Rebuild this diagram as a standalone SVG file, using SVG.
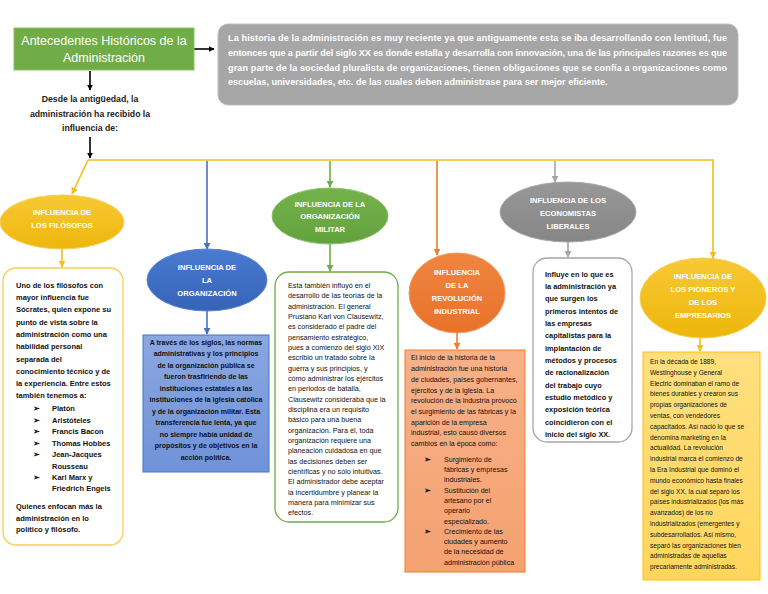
<svg xmlns="http://www.w3.org/2000/svg" width="768" height="594" viewBox="0 0 768 594">
<style>
  text { font-family: "Liberation Sans", Arial, sans-serif; }
  .lbl { fill: #ffffff; font-size: 7.6px; font-weight: bold; text-anchor: middle; }
  .b { font-size: 7.5px; font-weight: bold; fill: #111; }
  .r { font-size: 7.2px; fill: #111; }
  .bul { font-family: "DejaVu Sans", sans-serif; font-size: 8px; font-weight: bold; fill: #111; }
  .ln { fill: none; stroke-width: 1.6; }
</style>
<defs>
  <marker id="mk" viewBox="0 0 10 10" refX="9" refY="5" markerWidth="6" markerHeight="6" markerUnits="userSpaceOnUse" orient="auto"><path d="M0,0 L10,5 L0,10 z" fill="#000"/></marker>
  <marker id="mg" viewBox="0 0 10 10" refX="9" refY="5" markerWidth="7" markerHeight="7" markerUnits="userSpaceOnUse" orient="auto"><path d="M0,0 L10,5 L0,10 z" fill="#f2bd1d"/></marker>
  <marker id="mb" viewBox="0 0 10 10" refX="9" refY="5" markerWidth="7" markerHeight="7" markerUnits="userSpaceOnUse" orient="auto"><path d="M0,0 L10,5 L0,10 z" fill="#4472c4"/></marker>
  <marker id="mgr" viewBox="0 0 10 10" refX="9" refY="5" markerWidth="7" markerHeight="7" markerUnits="userSpaceOnUse" orient="auto"><path d="M0,0 L10,5 L0,10 z" fill="#70ad47"/></marker>
  <marker id="mo" viewBox="0 0 10 10" refX="9" refY="5" markerWidth="7" markerHeight="7" markerUnits="userSpaceOnUse" orient="auto"><path d="M0,0 L10,5 L0,10 z" fill="#ed7d31"/></marker>
  <marker id="ms" viewBox="0 0 10 10" refX="9" refY="5" markerWidth="7" markerHeight="7" markerUnits="userSpaceOnUse" orient="auto"><path d="M0,0 L10,5 L0,10 z" fill="#a5a5a5"/></marker>
  <linearGradient id="gGold" x1="0" y1="0" x2="0" y2="1"><stop offset="0" stop-color="#f7c934"/><stop offset="1" stop-color="#eeb60c"/></linearGradient>
  <linearGradient id="gBlue" x1="0" y1="0" x2="0" y2="1"><stop offset="0" stop-color="#4a7bd0"/><stop offset="1" stop-color="#3563b8"/></linearGradient>
  <linearGradient id="gGreen" x1="0" y1="0" x2="0" y2="1"><stop offset="0" stop-color="#75b24c"/><stop offset="1" stop-color="#62a23c"/></linearGradient>
  <linearGradient id="gOr" x1="0" y1="0" x2="0" y2="1"><stop offset="0" stop-color="#f08540"/><stop offset="1" stop-color="#e8722a"/></linearGradient>
  <linearGradient id="gGrey" x1="0" y1="0" x2="0" y2="1"><stop offset="0" stop-color="#989898"/><stop offset="1" stop-color="#868686"/></linearGradient>
  <linearGradient id="gBox1" x1="0" y1="0" x2="0" y2="1"><stop offset="0" stop-color="#8aa7e0"/><stop offset="1" stop-color="#7092d8"/></linearGradient>
  <linearGradient id="gBox2" x1="0" y1="0" x2="0" y2="1"><stop offset="0" stop-color="#f7b088"/><stop offset="1" stop-color="#f4a270"/></linearGradient>
  <linearGradient id="gBox3" x1="0" y1="0" x2="0" y2="1"><stop offset="0" stop-color="#ffdf80"/><stop offset="1" stop-color="#ffd65c"/></linearGradient>
</defs>
<rect width="768" height="594" fill="#ffffff"/>

<g id="connectors">
  <line class="ln" x1="194" y1="49" x2="214" y2="49" stroke="#000" marker-end="url(#mk)"/>
  <line class="ln" x1="90" y1="71" x2="90" y2="90" stroke="#000" marker-end="url(#mk)"/>
  <line class="ln" x1="90" y1="137" x2="90" y2="158" stroke="#000" marker-end="url(#mk)"/>
  <path class="ln" d="M88,160 H713 V258" stroke="#f2bd1d" marker-end="url(#mg)"/>
  <path class="ln" d="M88,160 L72,194" stroke="#f2bd1d" marker-end="url(#mg)"/>
  <path class="ln" d="M207,161 V249" stroke="#4472c4" marker-end="url(#mb)"/>
  <path class="ln" d="M330,161 V187" stroke="#70ad47" marker-end="url(#mgr)"/>
  <path class="ln" d="M437,161 V255" stroke="#ed7d31" marker-end="url(#mo)"/>
  <path class="ln" d="M555,161 V182" stroke="#a5a5a5" marker-end="url(#ms)"/>
  <line class="ln" x1="62" y1="249" x2="62" y2="267" stroke="#f2bd1d" marker-end="url(#mg)"/>
  <line class="ln" x1="207" y1="310" x2="207" y2="334" stroke="#4472c4" marker-end="url(#mb)"/>
  <line class="ln" x1="330" y1="244" x2="330" y2="271" stroke="#70ad47" marker-end="url(#mgr)"/>
  <line class="ln" x1="457" y1="332" x2="457" y2="349" stroke="#ed7d31" marker-end="url(#mo)"/>
  <line class="ln" x1="568" y1="242" x2="568" y2="257" stroke="#a5a5a5" marker-end="url(#ms)"/>
  <line class="ln" x1="700" y1="338" x2="700" y2="351" stroke="#f2bd1d" marker-end="url(#mg)"/>
</g>

<g id="title">
  <rect x="14" y="28" width="180" height="42" fill="#70ad47" stroke="#8cc06a" stroke-width="1"/>
  <text x="104" y="45" font-size="12.5" fill="#fff" text-anchor="middle">Antecedentes Históricos de la</text>
  <text x="104" y="62" font-size="12.5" fill="#fff" text-anchor="middle">Administración</text>
</g>

<g id="intro">
  <rect x="218" y="24" width="520" height="81" rx="10" fill="#a6a6a6" stroke="#bdbdbd" stroke-width="1"/>
  <g font-size="9.1" font-weight="bold" fill="#fff">
    <text x="228" y="41" textLength="499" lengthAdjust="spacing">La historia de la administración es muy reciente ya que antiguamente esta se iba desarrollando con lentitud, fue</text>
    <text x="228" y="56" textLength="499" lengthAdjust="spacing">entonces que a partir del siglo XX es donde estalla y desarrolla con innovación, una de las principales razones es que</text>
    <text x="228" y="71" textLength="499" lengthAdjust="spacing">gran parte de la sociedad  pluralista de organizaciones, tienen obligaciones que se confía a organizaciones como</text>
    <text x="228" y="85">escuelas, universidades, etc. de las cuales deben administrase para ser mejor eficiente.</text>
  </g>
</g>

<g id="desde">
  <g font-size="8.7" font-weight="bold" fill="#222" text-anchor="middle">
    <text x="90" y="102">Desde la antigüedad, la</text>
    <text x="90" y="117">administración ha recibido la</text>
    <text x="90" y="131">influencia de:</text>
  </g>
</g>

<g id="filosofos">
  <ellipse cx="62" cy="222" rx="62" ry="27" fill="url(#gGold)" stroke="#f5cf50" stroke-width="1"/>
  <text class="lbl" x="62" y="215">INFLUENCIA DE</text>
  <text class="lbl" x="62" y="228">LOS FILÓSOFOS</text>
</g>
<g id="filosofos-texto">
  <rect x="3" y="268" width="120" height="277" rx="13" fill="#fff" stroke="#f5cf50" stroke-width="1.3"/>
  <g class="b">
    <text x="16" y="288">Uno de los filósofos con</text>
    <text x="16" y="300">mayor influencia fue</text>
    <text x="16" y="312">Sócrates, quien expone su</text>
    <text x="16" y="325">punto de vista sobre la</text>
    <text x="16" y="337">administración como una</text>
    <text x="16" y="349">habilidad personal</text>
    <text x="16" y="362">separada del</text>
    <text x="16" y="374">conocimiento técnico y de</text>
    <text x="16" y="386">la experiencia. Entre estos</text>
    <text x="16" y="398">también tenemos a:</text>
    <text x="52" y="411">Platón</text>
    <text x="52" y="423">Aristóteles</text>
    <text x="52" y="434">Francis Bacon</text>
    <text x="52" y="446">Thomas Hobbes</text>
    <text x="52" y="457">Jean-Jacques</text>
    <text x="52" y="469">Rousseau</text>
    <text x="52" y="480">Karl Marx  y</text>
    <text x="52" y="491">Friedrich Engels</text>
    <text x="16" y="509">Quienes enfocan más la</text>
    <text x="16" y="521">administración en lo</text>
    <text x="16" y="532">político y filósofo.</text>
  </g>
  <g class="bul">
    <text x="33" y="411">➢</text><text x="33" y="423">➢</text><text x="33" y="434">➢</text>
    <text x="33" y="446">➢</text><text x="33" y="457">➢</text><text x="33" y="480">➢</text>
  </g>
</g>

<g id="organizacion">
  <ellipse cx="207" cy="280" rx="60" ry="31" fill="url(#gBlue)" stroke="#5b85d0" stroke-width="1"/>
  <text class="lbl" x="207" y="270">INFLUENCIA DE</text>
  <text class="lbl" x="207" y="283">LA</text>
  <text class="lbl" x="207" y="296">ORGANIZACIÓN</text>
</g>
<g id="organizacion-texto">
  <rect x="143" y="335" width="126" height="137" fill="url(#gBox1)" stroke="#4472c4" stroke-width="1"/>
  <g class="b" text-anchor="middle">
    <text x="206" y="345" font-size="7">A través de los siglos, las normas</text>
    <text x="206" y="356" font-size="7">administrativas y los principios</text>
    <text x="206" y="368" font-size="7">de la organización pública se</text>
    <text x="206" y="379" font-size="7">fueron trasfiriendo de las</text>
    <text x="206" y="391" font-size="7">instituciones estatales  a las</text>
    <text x="206" y="402" font-size="7">instituciones de la iglesia católica</text>
    <text x="206" y="414" font-size="7">y de la organización militar. Esta</text>
    <text x="206" y="425" font-size="7">transferencia fue lenta, ya que</text>
    <text x="206" y="437" font-size="7">no siempre había unidad de</text>
    <text x="206" y="448" font-size="7">propósitos y de objetivos en la</text>
    <text x="206" y="460" font-size="7">acción política.</text>
  </g>
</g>

<g id="militar">
  <ellipse cx="330" cy="216" rx="58" ry="28" fill="url(#gGreen)" stroke="#8cc06a" stroke-width="1"/>
  <text class="lbl" x="330" y="207">INFLUENCIA DE LA</text>
  <text class="lbl" x="330" y="219">ORGANIZACIÓN</text>
  <text class="lbl" x="330" y="232">MILITAR</text>
</g>
<g id="militar-texto">
  <rect x="275" y="272" width="123" height="250" rx="14" fill="#fff" stroke="#70ad47" stroke-width="1.3"/>
  <g class="r">
    <text x="288" y="288">Esta también influyó en el</text>
    <text x="288" y="298">desarrollo de las teorías de la</text>
    <text x="288" y="309">administración. El general</text>
    <text x="288" y="319">Prusiano Karl von Clausewitz,</text>
    <text x="288" y="329">es considerado el padre del</text>
    <text x="288" y="340">pensamiento estratégico,</text>
    <text x="288" y="350">pues a comienzo del siglo XIX</text>
    <text x="288" y="360">escribió un tratado sobre la</text>
    <text x="288" y="371">guerra y sus principios, y</text>
    <text x="288" y="381">cómo administrar los ejércitos</text>
    <text x="288" y="391">en periodos de batalla,</text>
    <text x="288" y="402">Clausewitz consideraba que la</text>
    <text x="288" y="412">disciplina era un requisito</text>
    <text x="288" y="422">básico para una buena</text>
    <text x="288" y="433">organización. Para él, toda</text>
    <text x="288" y="443">organización requiere una</text>
    <text x="288" y="453">planeación cuidadosa en que</text>
    <text x="288" y="464">las decisiones deben ser</text>
    <text x="288" y="474">científicas y no sólo intuitivas.</text>
    <text x="288" y="484">El administrador debe aceptar</text>
    <text x="288" y="495">la incertidumbre y planear la</text>
    <text x="288" y="505">manera para minimizar sus</text>
    <text x="288" y="515">efectos.</text>
  </g>
</g>

<g id="revolucion">
  <ellipse cx="457" cy="293" rx="48" ry="40" fill="url(#gOr)" stroke="#f29a60" stroke-width="1"/>
  <text class="lbl" x="457" y="275">INFLUENCIA</text>
  <text class="lbl" x="457" y="288">DE LA</text>
  <text class="lbl" x="457" y="301">REVOLUCIÓN</text>
  <text class="lbl" x="457" y="314">INDUSTRIAL</text>
</g>
<g id="revolucion-texto">
  <rect x="405" y="350" width="120" height="222" fill="url(#gBox2)" stroke="#ed7d31" stroke-width="1"/>
  <g class="r">
    <text x="411" y="360" font-size="7.1">El inicio de la historia de la</text>
    <text x="411" y="371" font-size="7.1">administración fue una historia</text>
    <text x="411" y="382" font-size="7.1">de ciudades, países gobernantes,</text>
    <text x="411" y="393" font-size="7.1">ejércitos y de la iglesia. La</text>
    <text x="411" y="403" font-size="7.1">revolución de la industria provocó</text>
    <text x="411" y="414" font-size="7.1">el surgimiento de las fábricas y la</text>
    <text x="411" y="425" font-size="7.1">aparición de la empresa</text>
    <text x="411" y="435" font-size="7.1">industrial, esto causó diversos</text>
    <text x="411" y="446" font-size="7.1">cambios en la época  como:</text>
    <text x="444" y="462" font-size="7.1">Surgimiento de</text>
    <text x="444" y="472" font-size="7.1">fábricas y empresas</text>
    <text x="444" y="482" font-size="7.1">industriales.</text>
    <text x="444" y="493" font-size="7.1">Sustitución del</text>
    <text x="444" y="503" font-size="7.1">artesano por el</text>
    <text x="444" y="513" font-size="7.1">operario</text>
    <text x="444" y="524" font-size="7.1">especializado.</text>
    <text x="444" y="534" font-size="7.1">Crecimiento de las</text>
    <text x="444" y="544" font-size="7.1">ciudades y aumento</text>
    <text x="444" y="554" font-size="7.1">de la necesidad de</text>
    <text x="444" y="565" font-size="7.1">administración pública</text>
  </g>
  <g class="bul">
    <text x="424" y="462">➢</text><text x="424" y="493">➢</text><text x="424" y="534">➢</text>
  </g>
</g>

<g id="economistas">
  <ellipse cx="568" cy="212" rx="68" ry="30" fill="url(#gGrey)" stroke="#a9a9a9" stroke-width="1"/>
  <text class="lbl" x="568" y="203">INFLUENCIA DE LOS</text>
  <text class="lbl" x="568" y="216">ECONOMISTAS</text>
  <text class="lbl" x="568" y="229">LIBERALES</text>
</g>
<g id="economistas-texto">
  <rect x="533" y="258" width="99" height="184" rx="14" fill="#fff" stroke="#a5a5a5" stroke-width="1.3"/>
  <g class="b">
    <text x="545" y="277" font-size="7.4">Influye en lo que es</text>
    <text x="545" y="289" font-size="7.4">la administración ya</text>
    <text x="545" y="301" font-size="7.4">que surgen los</text>
    <text x="545" y="314" font-size="7.4">primeros intentos de</text>
    <text x="545" y="326" font-size="7.4">las empresas</text>
    <text x="545" y="338" font-size="7.4">capitalistas para la</text>
    <text x="545" y="351" font-size="7.4">implantación de</text>
    <text x="545" y="363" font-size="7.4">métodos y procesos</text>
    <text x="545" y="375" font-size="7.4">de racionalización</text>
    <text x="545" y="388" font-size="7.4">del trabajo cuyo</text>
    <text x="545" y="400" font-size="7.4">estudio metódico y</text>
    <text x="545" y="412" font-size="7.4">exposición teórica</text>
    <text x="545" y="425" font-size="7.4">coincidieron con el</text>
    <text x="545" y="437" font-size="7.4">inicio del siglo XX.</text>
  </g>
</g>

<g id="pioneros">
  <ellipse cx="703" cy="298" rx="63" ry="40" fill="url(#gGold)" stroke="#f5cf50" stroke-width="1"/>
  <text class="lbl" x="703" y="279">INFLUENCIA DE</text>
  <text class="lbl" x="703" y="292">LOS PIONEROS Y</text>
  <text class="lbl" x="703" y="305">DE LOS</text>
  <text class="lbl" x="703" y="318">EMPRESARIOS</text>
</g>
<g id="pioneros-texto">
  <rect x="643" y="352" width="117" height="228" fill="url(#gBox3)" stroke="#ffc000" stroke-width="1"/>
  <g class="r">
    <text x="650" y="364" font-size="6.6">En la década de 1889,</text>
    <text x="650" y="375" font-size="6.6">Westinghouse y General</text>
    <text x="650" y="386" font-size="6.6">Electric dominaban el ramo de</text>
    <text x="650" y="396" font-size="6.6">bienes durables y crearon sus</text>
    <text x="650" y="407" font-size="6.6">propias organizaciones de</text>
    <text x="650" y="418" font-size="6.6">ventas, con vendedores</text>
    <text x="650" y="429" font-size="6.6">capacitados. Así nació lo que se</text>
    <text x="650" y="440" font-size="6.6">denomina marketing en la</text>
    <text x="650" y="450" font-size="6.6">actualidad. La revolución</text>
    <text x="650" y="461" font-size="6.6">industrial marca el comienzo de</text>
    <text x="650" y="472" font-size="6.6">la Era Industrial que dominó el</text>
    <text x="650" y="483" font-size="6.6">mundo económico hasta finales</text>
    <text x="650" y="494" font-size="6.6">del siglo XX, la cual separó los</text>
    <text x="650" y="504" font-size="6.6">países industrializados (los más</text>
    <text x="650" y="515" font-size="6.6">avanzados) de los no</text>
    <text x="650" y="526" font-size="6.6">industrializados (emergentes y</text>
    <text x="650" y="537" font-size="6.6">subdesarrollados. Así mismo,</text>
    <text x="650" y="548" font-size="6.6">separó las organizaciones bien</text>
    <text x="650" y="558" font-size="6.6">administradas de aquellas</text>
    <text x="650" y="569" font-size="6.6">precariamente administradas.</text>
  </g>
</g>
</svg>
